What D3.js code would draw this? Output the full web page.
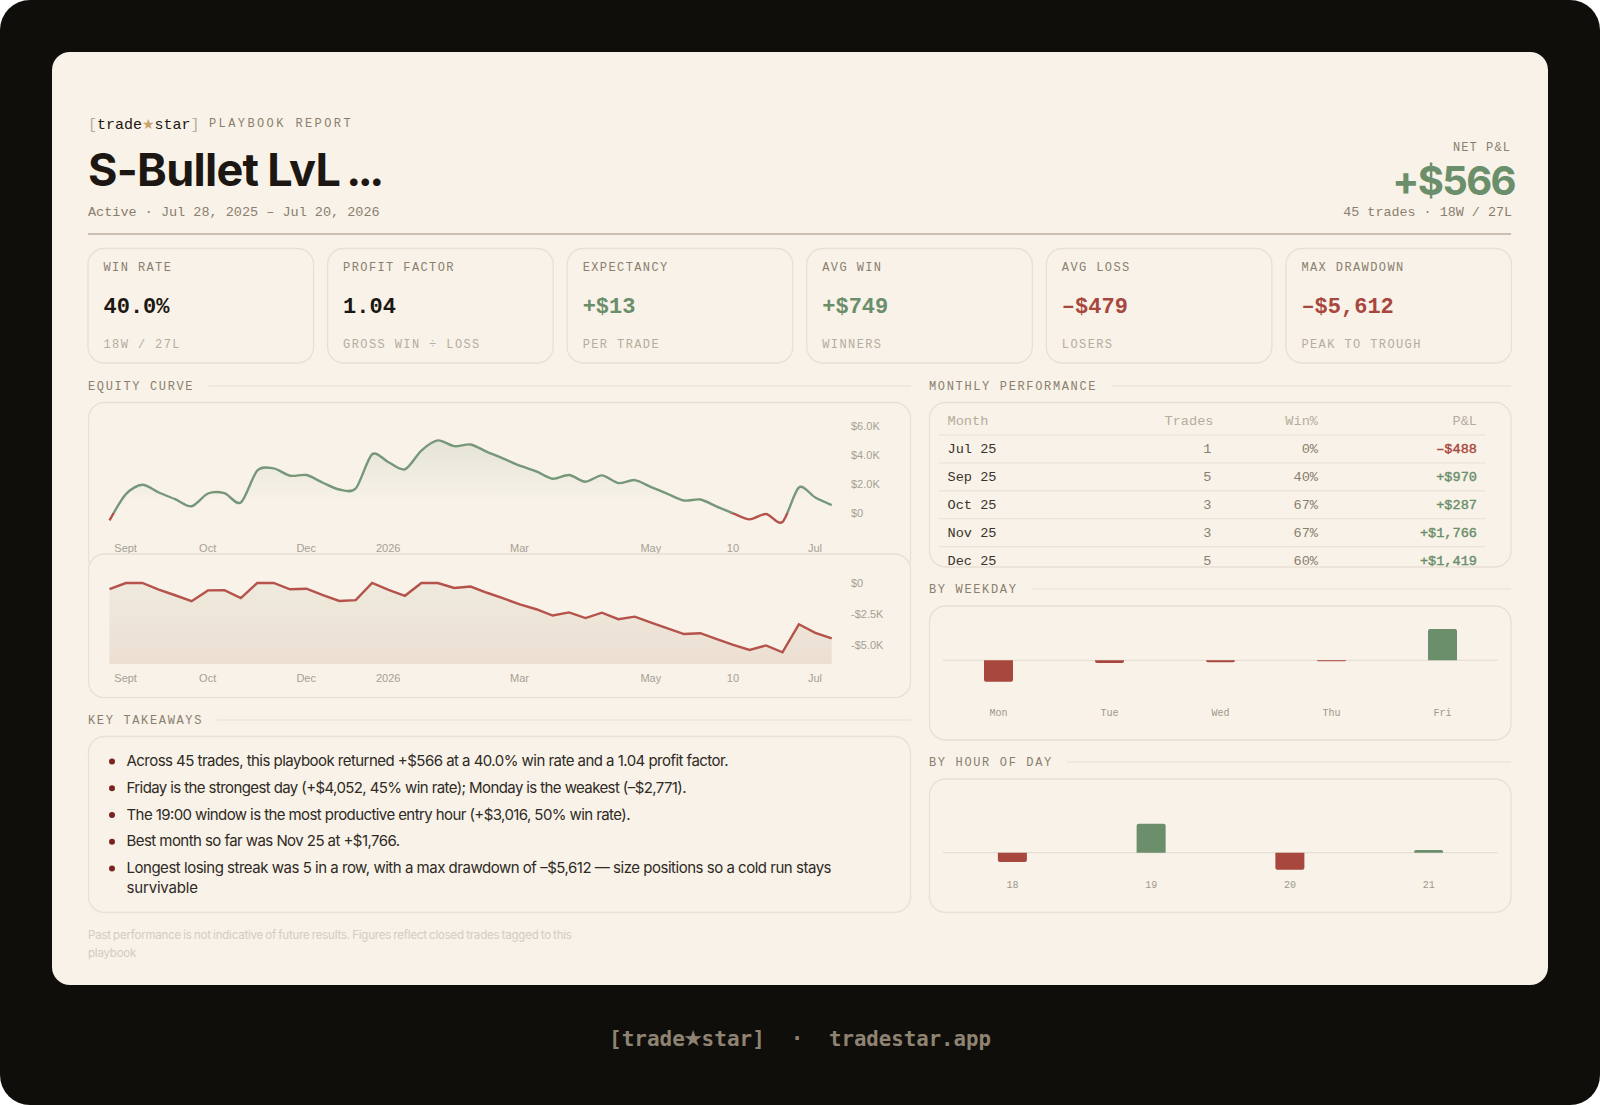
<!DOCTYPE html>
<html>
<head>
<meta charset="utf-8">
<script src="https://cdn.jsdelivr.net/npm/d3@7"></script>
<style>
  html, body { margin: 0; padding: 0; background: #fff; }
  svg { display: block; }
  text { font-family: "Liberation Mono", monospace; }
  .sans { font-family: Inter, sans-serif; }
  .chart text { font-family: "Liberation Sans", Arial, sans-serif; font-size: 11px; fill: #a6a094; }
</style>
</head>
<body>
<div id="main"></div>
<script>
// kpi cards
const kpiLabels = ["WIN RATE", "PROFIT FACTOR", "EXPECTANCY", "AVG WIN", "AVG LOSS", "MAX DRAWDOWN"];
const kpiValues = ["40.0%", "1.04", "+$13", "+$749", "–$479", "–$5,612"];
const kpiSubs = ["18W / 27L", "GROSS WIN ÷ LOSS", "PER TRADE", "WINNERS", "LOSERS", "PEAK TO TROUGH"];

// one value per closed trade
const equity = [-488, 1315, 1961, 1430, 969, 484, 1361, 1384, 738, 2930, 3091, 2584, 2630, 2100, 1638,
    1707, 4060, 3507, 3022, 4314, 5010, 4614, 4729, 4222, 3760, 3276, 2884, 2376, 2630, 2169,
    2607, 2076, 2284, 1799, 1338, 877, 946, 461, 0, -415, -46, -600, 1776, 1084, 566];
const drawdown = [-488, 0, 0, -531, -992, -1477, -600, -577, -1223, 0, 0, -507, -461, -991, -1453,
    -1384, 0, -553, -1038, 0, 0, -400, -285, -790, -1250, -1735, -2126, -2634, -2380, -2841,
    -2403, -2934, -2726, -3211, -3672, -4133, -4064, -4549, -5010, -5425, -5056, -5612, -3345, -4037, -4480];
const dateTicks = [1, 6, 12, 17, 25, 33, 38, 43];
const dateLabels = ["Sept", "Oct", "Dec", "2026", "Mar", "May", "10", "Jul"];
const equityTicks = [0, 2000, 4000, 6000];
const equityTickLabels = ["$0", "$2.0K", "$4.0K", "$6.0K"];
const ddTicks = [0, -2500, -5000];
const ddTickLabels = ["$0", "-$2.5K", "-$5.0K"];

// monthly table
const months = ["Jul 25", "Sep 25", "Oct 25", "Nov 25", "Dec 25"];
const monthTrades = [1, 5, 3, 3, 5];
const monthWin = ["0%", "40%", "67%", "67%", "60%"];
const monthPnl = [-488, 970, 287, 1766, 1419];

const weekdays = ["Mon", "Tue", "Wed", "Thu", "Fri"];
const weekdayPnl = [-2771, -350, -250, -115, 4052];
const hours = ["18", "19", "20", "21"];
const hourPnl = [-970, 3016, -1770, 290];

const takeaways = [
    ["Across 45 trades, this playbook returned +$566 at a 40.0% win rate and a 1.04 profit factor."],
    ["Friday is the strongest day (+$4,052, 45% win rate); Monday is the weakest (–$2,771)."],
    ["The 19:00 window is the most productive entry hour (+$3,016, 50% win rate)."],
    ["Best month so far was Nov 25 at +$1,766."],
    ["Longest losing streak was 5 in a row, with a max drawdown of –$5,612 — size positions so a cold run stays", "survivable"]
];
const disclaimer = ["Past performance is not indicative of future results. Figures reflect closed trades tagged to this", "playbook"];

const green = "#6b8e6b", red = "#a8473d", ink = "#1c1712", muted = "#8a7f6e", faint = "#b5ad9d",
    paper = "#f8f2e8", border = "#e7e0d4", dark = "#100e0b", footColor = "#8f8372";
const monoBold = '"DejaVu Sans Mono", monospace';

const svg = d3.select("#main").append("svg")
    .attr("width", 1600)
    .attr("height", 1105);
const defs = svg.append("defs");

svg.append("rect").attr("width", 1600).attr("height", 1105).attr("rx", 30).attr("fill", dark);
svg.append("rect").attr("x", 52).attr("y", 52).attr("width", 1496).attr("height", 933)
    .attr("rx", 18).attr("fill", paper);

function label(parent, x, y, str, size, fill, opts = {}) {
    return parent.append("text")
        .attr("x", x).attr("y", y)
        .attr("text-anchor", opts.anchor || "start")
        .attr("class", opts.cls || null)
        .style("font-size", size + "px")
        .style("font-weight", opts.weight || 400)
        .style("letter-spacing", (opts.ls || 0) + "px")
        .style("word-spacing", (opts.ws || 0) + "px")
        .attr("fill", fill)
        .text(str);
}

function panel(parent, x0, y0, x1, y1) {
    return parent.append("rect")
        .attr("x", x0).attr("y", y0)
        .attr("width", x1 - x0).attr("height", y1 - y0)
        .attr("rx", 16)
        .attr("fill", paper)
        .attr("stroke", border)
        .attr("stroke-width", 1.3);
}

function sectionHead(x0, x1, y, str) {
    const t = label(svg, x0, y, str, 12, muted, {ls: 1.65});
    const w = t.node().getComputedTextLength();
    svg.append("line")
        .attr("x1", x0 + w + 14).attr("x2", x1)
        .attr("y1", y - 4).attr("y2", y - 4)
        .attr("stroke", border).attr("stroke-width", 1.2);
}

// header
const logo = svg.append("text").attr("x", 88).attr("y", 129).style("font-size", "15px");
logo.append("tspan").attr("fill", faint).text("[");
logo.append("tspan").attr("fill", ink).text("trade");
logo.append("tspan").attr("fill", "#c9a36a").style("font-family", '"DejaVu Sans", sans-serif').style("font-size", "14px").text("★");
logo.append("tspan").attr("fill", ink).text("star");
logo.append("tspan").attr("fill", faint).text("]");
label(svg, 209, 127, "PLAYBOOK REPORT", 12, muted, {ls: 2.4});
const title = label(svg, 88, 186, "S-Bullet LvL", 45, ink, {cls: "sans", weight: 700, ls: -0.7, ws: -1});
title.append("tspan").attr("dx", 6).style("letter-spacing", "-3.5px").text("...");
label(svg, 88, 216, "Active · Jul 28, 2025 – Jul 20, 2026", 13.5, muted);
label(svg, 1511, 151, "NET P&L", 12, muted, {anchor: "end", ls: 1.1});
label(svg, 1515, 195, "+$566", 40, green, {anchor: "end", cls: "sans", weight: 700, ls: -1.6});
label(svg, 1512, 216, "45 trades · 18W / 27L", 13.4, muted, {anchor: "end"});
svg.append("line").attr("x1", 88).attr("x2", 1511).attr("y1", 234).attr("y2", 234)
    .attr("stroke", "#bfaca0").attr("stroke-width", 1.4);

// kpi row
const kpiX = d3.scaleBand().domain(kpiLabels).range([88, 1511.5]).paddingInner(14 / 239.6);
const kpiColors = [ink, ink, green, green, red, red];
kpiLabels.forEach((k, i) => {
    const x = kpiX(k);
    panel(svg, x, 248.5, x + kpiX.bandwidth(), 363);
    label(svg, x + 15.5, 270.5, k, 12, muted, {ls: 1.4});
    label(svg, x + 15.5, 313, kpiValues[i], 22, kpiColors[i], {weight: 700});
    label(svg, x + 15.5, 348, kpiSubs[i], 12, faint, {ls: 1.4});
});

// equity curve
sectionHead(88, 911, 390, "EQUITY CURVE");
panel(svg, 88.5, 402.5, 910.5, 575);

const xTrade = d3.scalePoint().domain(d3.range(equity.length)).range([109.5, 831.7]);
const yEquity = d3.scaleLinear().domain([0, 6000]).range([513.3, 426]);
const yDraw = d3.scaleLinear().domain([-6560, 0]).range([664, 583]);

const eqFill = defs.append("linearGradient").attr("id", "eqFill")
    .attr("gradientUnits", "userSpaceOnUse").attr("x1", 0).attr("x2", 0)
    .attr("y1", yEquity(5000)).attr("y2", yEquity(800));
eqFill.append("stop").attr("offset", 0).attr("stop-color", green).attr("stop-opacity", 0.14);
eqFill.append("stop").attr("offset", 1).attr("stop-color", green).attr("stop-opacity", 0);

const eqLine = defs.append("linearGradient").attr("id", "eqLine")
    .attr("gradientUnits", "userSpaceOnUse").attr("x1", 0).attr("x2", 0)
    .attr("y1", yEquity(6000)).attr("y2", yEquity(-1000));
const zeroAt = (yEquity(0) - yEquity(6000)) / (yEquity(-1000) - yEquity(6000));
[[0, "#76977a"], [zeroAt, "#76977a"], [zeroAt, "#b5524a"], [1, "#b5524a"]].forEach(d => {
    eqLine.append("stop").attr("offset", d[0]).attr("stop-color", d[1]);
});

const smooth = d3.curveCardinal.tension(0.15);
const eqChart = svg.append("g").attr("class", "chart");
eqChart.append("path")
    .attr("d", d3.area().x((d, i) => xTrade(i)).y0(yEquity(0)).y1(d => yEquity(Math.max(d, 0))).curve(smooth)(equity))
    .attr("fill", "url(#eqFill)");
eqChart.append("path")
    .attr("d", d3.line().x((d, i) => xTrade(i)).y(d => yEquity(d)).curve(smooth)(equity))
    .attr("fill", "none")
    .attr("stroke", "url(#eqLine)")
    .attr("stroke-width", 2.4);

function addAxes(g, xY, yScale, ticks, tickLabels) {
    const bottom = g.append("g")
        .attr("transform", `translate(-0.8, ${xY})`)
        .call(d3.axisBottom(xTrade).tickValues(dateTicks).tickSize(0).tickPadding(0)
            .tickFormat(d => dateLabels[dateTicks.indexOf(d)]));
    bottom.select(".domain").remove();
    bottom.selectAll("text").attr("dy", 0).attr("y", 0);
    const right = g.append("g")
        .attr("transform", "translate(851, 0)")
        .call(d3.axisRight(yScale).tickValues(ticks).tickSize(0).tickPadding(0)
            .tickFormat(d => tickLabels[ticks.indexOf(d)]));
    right.select(".domain").remove();
}
addAxes(eqChart, 552.3, yEquity, equityTicks, equityTickLabels);

// drawdown sits on top of the lower edge of the equity panel
panel(svg, 88.5, 554, 910.5, 697.7);
const ddFill = defs.append("linearGradient").attr("id", "ddFill")
    .attr("gradientUnits", "userSpaceOnUse").attr("x1", 0).attr("x2", 0)
    .attr("y1", yDraw(0)).attr("y2", yDraw(-6560));
ddFill.append("stop").attr("offset", 0).attr("stop-color", "#eeeadd");
ddFill.append("stop").attr("offset", 1).attr("stop-color", "#ecdfd2");

const ddChart = svg.append("g").attr("class", "chart");
ddChart.append("path")
    .attr("d", d3.area().x((d, i) => xTrade(i)).y0(yDraw(-6560)).y1(d => yDraw(d))(drawdown))
    .attr("fill", "url(#ddFill)");
ddChart.append("path")
    .attr("d", d3.line().x((d, i) => xTrade(i)).y(d => yDraw(d))(drawdown))
    .attr("fill", "none")
    .attr("stroke", "#b5524a")
    .attr("stroke-width", 2.4);
addAxes(ddChart, 681.7, yDraw, ddTicks, ddTickLabels);

// takeaways
sectionHead(88, 911, 724, "KEY TAKEAWAYS");
panel(svg, 88.5, 736.5, 910.5, 912.5);
const lineY = d3.scalePoint().domain(d3.range(5)).range([766, 873]);
// rendered widths of each wrapped line
const takeawayFit = [[602], [560], [504], [273.5], [705, 71.5]];
takeaways.forEach((lines, i) => {
    svg.append("circle").attr("cx", 112).attr("cy", lineY(i) - 4.5).attr("r", 3).attr("fill", "#7a2320");
    lines.forEach((l, j) => {
        label(svg, 126.5, lineY(i) + j * 20, l, 15, "#2f2a24", {cls: "sans"})
            .attr("textLength", takeawayFit[i][j])
            .attr("lengthAdjust", "spacing");
    });
});
disclaimer.forEach((l, j) => {
    label(svg, 88, 939.3 + j * 18, l, 11.5, "#d3cdc0", {cls: "sans", ls: -0.2, ws: -0.8});
});

// monthly table
sectionHead(929, 1511, 390, "MONTHLY PERFORMANCE");
panel(svg, 929.5, 402.5, 1511, 567);
defs.append("clipPath").attr("id", "tableClip").append("rect")
    .attr("x", 929.5).attr("y", 402.5).attr("width", 581.5).attr("height", 164.5).attr("rx", 16);
const table = svg.append("g").attr("clip-path", "url(#tableClip)");
const rowY = d3.scalePoint().domain(months).range([453.3, 565]);
const ruleY = d3.scalePoint().domain(d3.range(5)).range([435, 546.7]);
const cols = {month: 947.5, trades: 1213.5, win: 1318, pnl: 1477};
const fmtPnl = d => (d < 0 ? "–$" : "+$") + d3.format(",")(Math.abs(d));

label(table, cols.month, 425, "Month", 13.6, faint);
label(table, cols.trades, 425, "Trades", 13.6, faint, {anchor: "end"});
label(table, cols.win, 425, "Win%", 13.6, faint, {anchor: "end"});
label(table, cols.pnl, 425, "P&L", 13.6, faint, {anchor: "end"});
ruleY.domain().forEach(i => {
    table.append("line").attr("x1", 939).attr("x2", 1485.5)
        .attr("y1", ruleY(i)).attr("y2", ruleY(i))
        .attr("stroke", border).attr("stroke-width", 1);
});
months.forEach((m, i) => {
    const y = rowY(m);
    label(table, cols.month, y, m, 13.6, "#3a342c");
    label(table, cols.trades - 2, y, monthTrades[i], 13.6, muted, {anchor: "end"});
    label(table, cols.win, y, monthWin[i], 13.6, muted, {anchor: "end"});
    const c = monthPnl[i] < 0 ? red : green;
    label(table, cols.pnl, y, fmtPnl(monthPnl[i]), 13.6, c, {anchor: "end"})
        .attr("stroke", c).attr("stroke-width", 0.4);
});

// bar panels
function barPath(x, w, y0, y1) {
    const r = Math.min(2, Math.abs(y1 - y0));
    const s = y1 < y0 ? 1 : -1;
    return `M${x},${y0}V${y1 + s * r}Q${x},${y1} ${x + r},${y1}H${x + w - r}Q${x + w},${y1} ${x + w},${y1 + s * r}V${y0}Z`;
}

function drawBars(names, vals, yZero, pxMax, labelY) {
    const x = d3.scaleBand().domain(names).range([943, 1498]);
    const y = d3.scaleLinear().domain([0, d3.max(vals)]).range([yZero, yZero - pxMax]);
    svg.append("line").attr("x1", 943).attr("x2", 1498).attr("y1", yZero).attr("y2", yZero)
        .attr("stroke", "#e6dfd3").attr("stroke-width", 1.2);
    svg.append("g").selectAll("path")
        .data(vals)
        .join("path")
        .attr("d", (d, i) => barPath(x(names[i]) + x.bandwidth() / 2 - 14.5, 29, y(0), y(d)))
        .attr("fill", d => d < 0 ? red : green);
    const ax = svg.append("g")
        .attr("transform", `translate(0, ${labelY})`)
        .call(d3.axisBottom(x).tickSize(0).tickPadding(0));
    ax.select(".domain").remove();
    ax.selectAll("text")
        .attr("y", 0).attr("dy", 0)
        .style("font-family", '"Liberation Mono", monospace')
        .style("font-size", "10px")
        .attr("fill", "#a09889");
}

sectionHead(929, 1511, 593, "BY WEEKDAY");
panel(svg, 929.5, 606, 1511, 740);
drawBars(weekdays, weekdayPnl, 660.3, 31.3, 715.7);

sectionHead(929, 1511, 766, "BY HOUR OF DAY");
panel(svg, 929.5, 779, 1511, 912.5);
drawBars(hours, hourPnl, 852.7, 29, 888.3);

// footer strip
const foot = svg.append("text").attr("y", 1045.7).attr("x", 609)
    .style("font-family", monoBold).style("font-size", "21px").style("font-weight", 700)
    .attr("fill", footColor);
foot.append("tspan").text("[trade");
foot.append("tspan").attr("dx", -1.5).style("font-family", '"DejaVu Sans", sans-serif').style("font-size", "22px").text("★");
foot.append("tspan").attr("dx", -1.5).text("star]");
label(svg, 797, 1045.7, "·", 21, footColor, {anchor: "middle", weight: 700}).style("font-family", monoBold);
label(svg, 829, 1045.7, "tradestar.app", 20.7, footColor, {weight: 700}).style("font-family", monoBold);
</script>
</body>
</html>
